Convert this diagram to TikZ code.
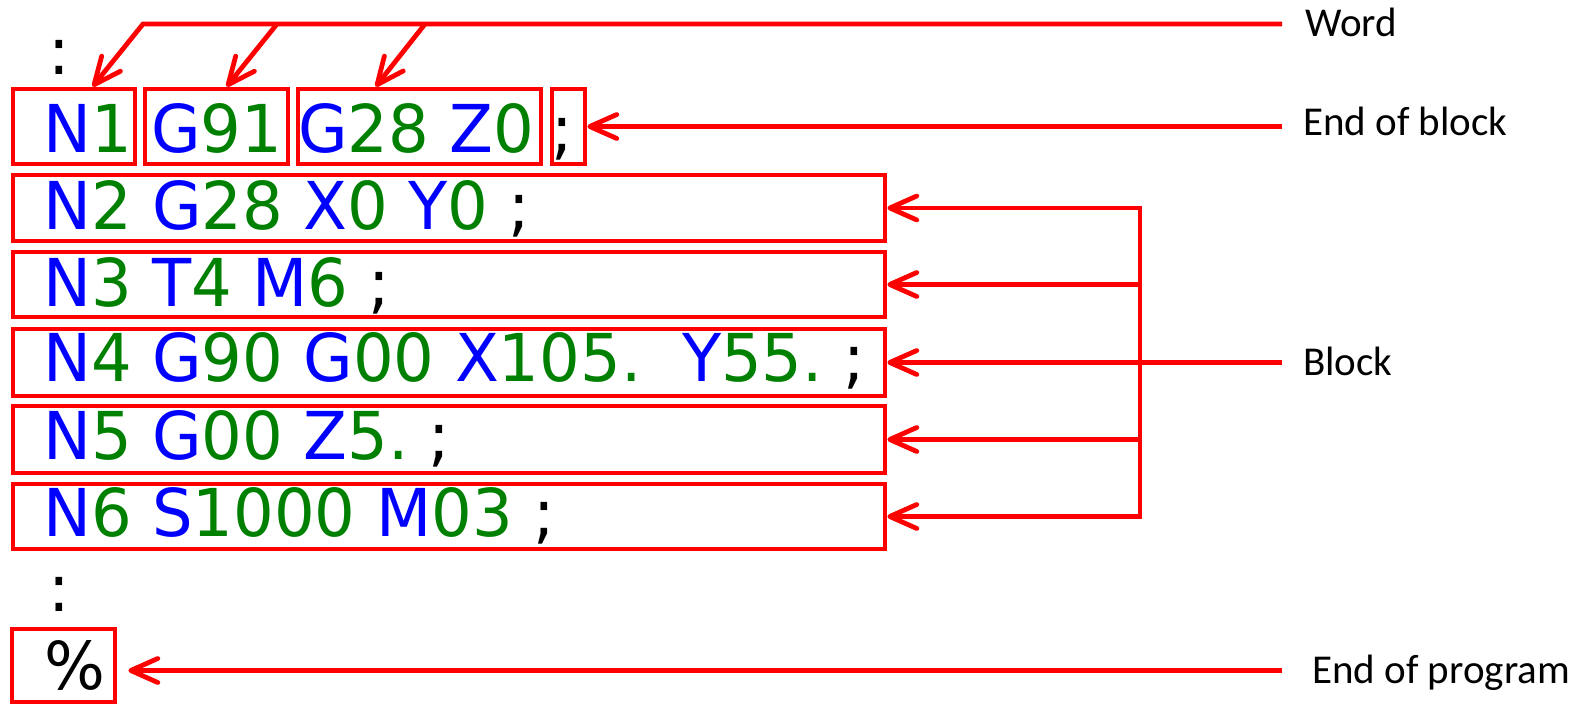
\documentclass[tikz,border=0pt]{standalone}
\usepackage{fontspec}
\usetikzlibrary{arrows.meta}
\newfontfamily\codefont{DejaVu Sans}[FakeStretch=0.97]
\newfontfamily\labelfont{Carlito}
\definecolor{gcred}{RGB}{255,0,0}
\definecolor{gcblue}{RGB}{0,0,255}
\definecolor{gcgreen}{RGB}{0,128,0}
% address letters in blue, values in green
\newcommand\letr[1]{\textcolor{gcblue}{#1}}
\newcommand\numb[1]{\textcolor{gcgreen}{#1}}

\begin{document}
\begin{tikzpicture}[x=1pt,y=-1pt,
  redline/.style={draw=gcred,line width=4.8pt},
  arr/.style={redline,-{Straight Barb[length=27pt,width=24pt,round]}},
  wbox/.style={rectangle,draw=gcred,line width=4.8pt,inner sep=0pt},
  code/.style={inner sep=0pt,anchor=base west,
    font=\codefont\fontsize{66}{70}\selectfont\frenchspacing},
  lbl/.style={inner sep=0pt,anchor=base west,
    font=\labelfont\fontsize{41}{48}\selectfont}]
\useasboundingbox (0,0) rectangle (1592,705);

% word boxes of the first block
\node[wbox,minimum width=122pt,minimum height=75pt] (n1)   at (74,126.5)   {};
\node[wbox,minimum width=143pt,minimum height=75pt] (g91)  at (216.5,126.5) {};
\node[wbox,minimum width=243pt,minimum height=75pt] (g28)  at (419.5,126.5) {};
\node[wbox,minimum width=33pt,minimum height=75pt]  (semi) at (568.5,126.5) {};

% block boxes
\node[wbox,minimum width=872pt,minimum height=66pt] (row2) at (449,208)   {};
\node[wbox,minimum width=872pt,minimum height=65pt] (row3) at (449,284.5) {};
\node[wbox,minimum width=872pt,minimum height=67pt] (row4) at (449,362.5) {};
\node[wbox,minimum width=872pt,minimum height=67pt] (row5) at (449,439.5) {};
\node[wbox,minimum width=872pt,minimum height=65pt] (row6) at (449,516.5) {};

% end of program box
\node[wbox,minimum width=103pt,minimum height=73pt] (pct) at (63.5,665.5) {};

% program text
\node[code] (dots1) at (48,74) {:};
\node[code] (t1a) at (43,152.7)  {\letr{N}\numb{1}};
\node[code] (t1b) at (151,152.7) {\letr{G}\numb{91}};
\node[code] (t1c) at (298,152.7) {\letr{G}\numb{28} \letr{Z}\numb{0}};
\node[code] (t1d) at (551,152.7) {;};
\node[code] (t2) at (43,229.3) {\letr{N}\numb{2} \letr{G}\numb{28} \letr{X}\numb{0} \letr{Y}\numb{0} ;};
\node[code] (t3) at (43,306)   {\letr{N}\numb{3} \letr{T}\numb{4} \letr{M}\numb{6} ;};
\node[code] (t4) at (43,381.7) {\letr{N}\numb{4} \letr{G}\numb{90} \letr{G}\numb{00} \letr{X}\numb{105.}\ \ \letr{Y}\numb{55.} ;};
\node[code] (t5) at (43,459)   {\letr{N}\numb{5} \letr{G}\numb{00} \letr{Z}\numb{5.} ;};
\node[code] (t6) at (43,536)   {\letr{N}\numb{6} \letr{S}\numb{1000} \letr{M}\numb{03} ;};
\node[code] (dots2) at (48,611) {:};
\node[code] (pcttxt) at (44,689) {\%};

% callout labels
\node[lbl] (lword)  at (1305,36)  {Word};
\node[lbl] (leob)   at (1303,135) {End of block};
\node[lbl] (lblock) at (1303,375) {Block};
\node[lbl] (leop)   at (1312,683) {End of program};

% "Word" pointers
\coordinate (wordend) at (1282,24);
\coordinate (wj1) at (143,24);
\coordinate (wj2) at (277,24);
\coordinate (wj3) at (425,24);
\draw[arr] (wordend) -- (wj1) -- ([xshift=82pt]n1.north west);
\draw[arr] (wj2) -- ([xshift=84pt]g91.north west);
\draw[arr] (wj3) -- ([xshift=80pt]g28.north west);

% "End of block" pointer
\coordinate (eob) at (1282,126.5);
\draw[arr] (eob) -- (semi.east);

% "Block" bracket
\coordinate (brk) at (1140,363);
\coordinate (blockend) at (1282,363);
\draw[redline,line cap=rect] (brk |- row2.east) -- (brk |- row6.east);
\foreach \r in {row2,row3,row4,row5,row6}
  \draw[arr] (brk |- \r.east) -- (\r.east);
\draw[redline] (brk |- row4.east) -- (blockend |- row4.east);

% "End of program" pointer
\coordinate (eop) at (1282,670.5);
\coordinate (pcttip) at ([xshift=11pt,yshift=-5pt]pct.east);
\draw[arr] (eop) -- (pcttip);
\end{tikzpicture}
\end{document}
